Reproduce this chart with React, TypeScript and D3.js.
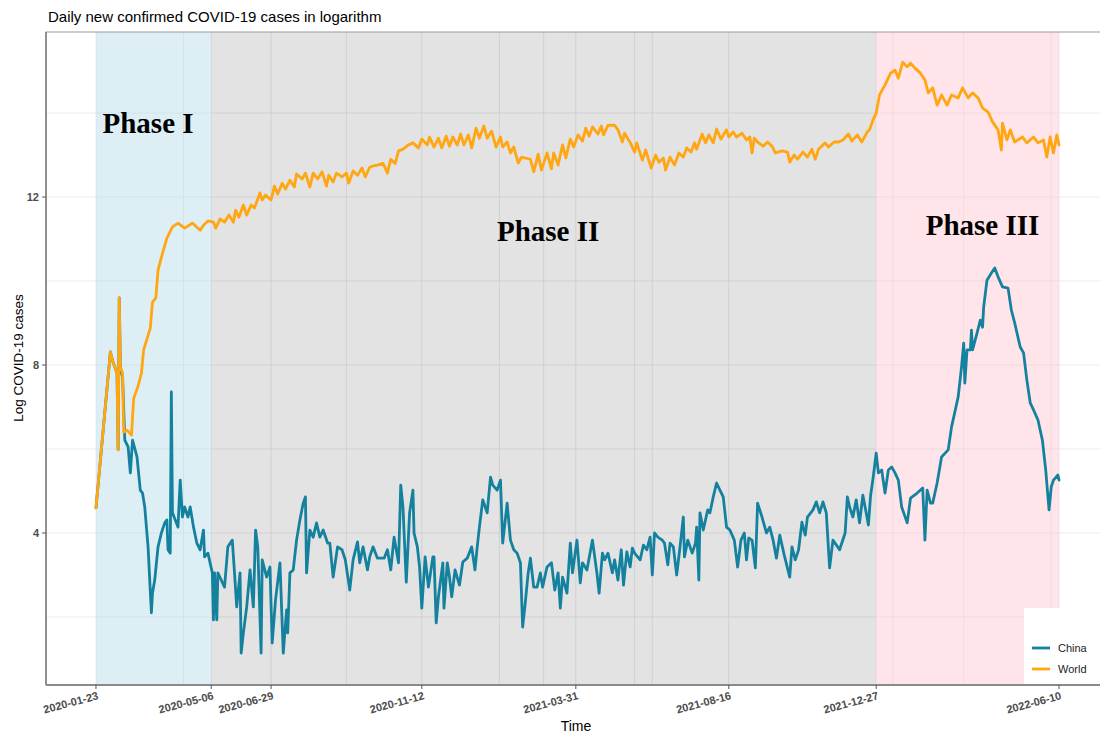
import * as d3 from "d3";

// [days since 2020-01-23, log of daily new cases]
const worldSeries: [number, number][] = [
  [0, 4.6], [13, 8.31], [15, 8.1], [19, 7.8], [20, 5.98], [21, 9.6], [22, 7.95], [24, 7.8], [25, 6.4], [28, 6.45],
  [32, 6.33], [34, 7.2], [38, 7.5], [41, 7.8], [43, 8.36], [49, 8.88], [51, 9.5], [54, 9.6], [56, 10.26], [60, 10.66],
  [64, 11.02], [69, 11.29], [74, 11.38], [80, 11.26], [87, 11.38], [94, 11.21], [97, 11.33], [101, 11.43], [106, 11.4], [108, 11.26],
  [112, 11.48], [116, 11.4], [120, 11.57], [124, 11.4], [126, 11.69], [129, 11.52], [133, 11.81], [136, 11.57], [140, 11.81], [143, 11.74],
  [148, 12.1], [150, 11.93], [153, 12.05], [158, 11.93], [161, 12.26], [164, 12.07], [168, 12.33], [171, 12.19], [175, 12.4], [179, 12.24],
  [181, 12.55], [186, 12.43], [189, 12.57], [193, 12.24], [196, 12.57], [200, 12.43], [204, 12.6], [208, 12.26], [210, 12.52], [214, 12.36],
  [217, 12.57], [222, 12.48], [226, 12.57], [228, 12.33], [232, 12.62], [236, 12.52], [240, 12.69], [243, 12.48], [247, 12.71], [250, 12.74],
  [254, 12.76], [259, 12.8], [263, 12.57], [266, 12.9], [270, 12.8], [273, 13.1], [277, 13.14], [282, 13.24], [286, 13.29], [291, 13.17],
  [294, 13.38], [299, 13.24], [301, 13.43], [305, 13.19], [309, 13.4], [312, 13.17], [316, 13.45], [319, 13.21], [322, 13.43], [326, 13.24],
  [329, 13.5], [332, 13.24], [336, 13.48], [339, 13.17], [343, 13.64], [346, 13.4], [350, 13.69], [353, 13.4], [357, 13.57], [361, 13.19],
  [365, 13.43], [367, 13.19], [371, 13.31], [374, 13.05], [377, 13.19], [381, 12.81], [384, 12.95], [392, 12.9], [395, 12.6], [399, 13.02],
  [402, 12.64], [407, 13.05], [411, 12.67], [413, 13.05], [417, 12.76], [421, 13.24], [424, 12.93], [428, 13.38], [431, 13.19], [435, 13.48],
  [439, 13.33], [442, 13.64], [445, 13.45], [448, 13.67], [453, 13.5], [456, 13.69], [458, 13.48], [462, 13.71], [468, 13.71], [471, 13.6],
  [475, 13.31], [477, 13.52], [482, 13.3], [486, 13.07], [488, 13.29], [493, 12.88], [496, 13.12], [501, 12.69], [505, 13.0], [508, 12.83],
  [512, 12.93], [514, 12.64], [518, 12.95], [522, 12.76], [526, 13.05], [530, 12.95], [533, 13.17], [537, 13.07], [540, 13.29], [542, 13.14],
  [547, 13.5], [550, 13.29], [553, 13.48], [557, 13.29], [560, 13.62], [564, 13.38], [569, 13.6], [571, 13.43], [575, 13.55], [578, 13.43],
  [583, 13.52], [587, 13.36], [590, 13.43], [592, 13.05], [594, 13.4], [597, 13.31], [602, 13.21], [606, 13.31], [610, 13.21], [613, 13.05],
  [619, 13.1], [624, 13.07], [626, 12.83], [630, 13.0], [633, 12.9], [638, 13.07], [642, 12.95], [646, 13.14], [649, 12.9], [652, 13.14],
  [658, 13.29], [661, 13.19], [666, 13.31], [670, 13.31], [674, 13.36], [679, 13.5], [682, 13.33], [687, 13.48], [691, 13.31], [696, 13.55],
  [698, 13.6], [701, 13.83], [704, 14.0], [707, 14.43], [712, 14.67], [717, 14.95], [721, 15.02], [724, 14.83], [728, 15.21], [732, 15.1],
  [735, 15.19], [739, 15.07], [744, 14.95], [748, 14.79], [751, 14.48], [755, 14.6], [759, 14.19], [763, 14.43], [768, 14.19], [772, 14.43],
  [778, 14.36], [782, 14.6], [787, 14.36], [791, 14.48], [796, 14.36], [800, 14.12], [805, 14.02], [809, 13.79], [814, 13.6], [817, 13.12],
  [818, 13.76], [822, 13.36], [825, 13.6], [829, 13.31], [836, 13.43], [840, 13.29], [846, 13.43], [850, 13.29], [855, 13.36], [858, 12.95],
  [861, 13.43], [864, 13.05], [867, 13.48], [869, 13.24],
];

const chinaDay = [0, 13, 15, 19, 20, 21, 22, 24, 26, 29, 31, 33, 37, 40, 42, 44, 47, 50, 51, 53, 56, 59, 62, 64, 65, 67, 68, 69, 74, 76, 78, 80, 83, 85, 88, 91, 94, 97, 98, 101, 105, 106, 107, 109, 110, 113, 116, 119, 123, 125, 127, 130, 131, 133, 136, 139, 142, 144, 146, 149, 150, 154, 157, 159, 162, 166, 169, 172, 173, 175, 178, 181, 184, 187, 189, 190, 193, 196, 199, 202, 205, 209, 211, 214, 218, 222, 225, 229, 232, 236, 238, 241, 245, 247, 250, 254, 260, 263, 266, 269, 273, 275, 277, 280, 283, 286, 287, 290, 292, 294, 297, 300, 304, 305, 307, 309, 313, 314, 317, 319, 321, 324, 328, 331, 335, 339, 342, 344, 346, 349, 353, 356, 358, 362, 365, 367, 371, 374, 377, 380, 383, 385, 387, 390, 392, 395, 398, 401, 403, 407, 411, 414, 417, 419, 421, 425, 428, 430, 434, 437, 439, 443, 448, 452, 454, 457, 459, 462, 466, 468, 471, 474, 476, 479, 482, 484, 486, 491, 494, 497, 500, 502, 504, 507, 511, 513, 516, 518, 521, 524, 527, 530, 531, 534, 538, 541, 542, 544, 545, 548, 552, 554, 557, 560, 563, 566, 569, 572, 576, 579, 582, 585, 587, 589, 592, 595, 597, 601, 605, 608, 611, 614, 617, 621, 626, 628, 631, 634, 637, 640, 642, 647, 650, 653, 656, 659, 662, 665, 671, 676, 678, 680, 683, 686, 689, 692, 695, 697, 699, 701, 704, 706, 709, 712, 715, 718, 721, 724, 727, 732, 735, 741, 746, 748, 750, 753, 755, 759, 763, 769, 772, 778, 781, 783, 784, 786, 789, 790, 791, 795, 798, 800, 801, 804, 808, 811, 814, 818, 823, 826, 829, 834, 837, 840, 843, 846, 850, 854, 857, 860, 862, 864, 868, 869];
const chinaLog = [4.6, 8.31, 8.1, 7.8, 5.98, 9.6, 7.95, 7.7, 6.21, 6.05, 5.43, 6.21, 5.81, 5.02, 4.95, 4.62, 3.67, 2.1, 2.57, 2.88, 3.67, 4.0, 4.24, 4.31, 3.6, 3.52, 7.36, 4.48, 4.14, 5.26, 4.38, 4.62, 4.38, 4.62, 4.14, 3.76, 3.6, 4.07, 3.43, 3.52, 3.05, 1.93, 3.05, 1.93, 3.05, 2.88, 2.71, 3.67, 3.83, 3.05, 2.24, 3.05, 1.14, 1.62, 2.24, 3.12, 2.24, 4.07, 3.67, 1.14, 3.36, 2.95, 3.19, 1.38, 2.4, 3.29, 1.14, 2.17, 1.62, 3.05, 3.12, 3.83, 4.31, 4.71, 4.86, 3.05, 4.07, 3.9, 4.24, 3.9, 4.07, 3.76, 3.76, 2.95, 3.67, 3.6, 3.36, 2.64, 3.36, 3.79, 3.29, 3.67, 3.12, 3.43, 3.67, 3.4, 3.4, 3.6, 3.12, 3.9, 3.29, 5.14, 4.62, 2.83, 4.48, 5.02, 4.0, 3.67, 3.19, 2.21, 3.43, 2.71, 3.43, 3.43, 1.86, 2.48, 3.29, 2.21, 3.29, 2.95, 2.48, 3.12, 2.76, 3.31, 3.4, 3.67, 3.12, 3.67, 4.14, 4.79, 4.48, 5.33, 5.14, 5.02, 5.26, 3.76, 4.71, 3.83, 3.6, 3.52, 3.29, 1.76, 2.24, 3.05, 3.4, 2.71, 2.71, 3.05, 2.71, 3.19, 3.29, 2.64, 3.05, 2.21, 2.95, 2.57, 3.76, 3.05, 3.83, 2.81, 3.29, 3.12, 3.83, 3.05, 2.57, 3.52, 3.36, 3.52, 3.05, 3.36, 2.88, 3.6, 2.76, 3.55, 3.19, 3.64, 3.52, 3.36, 3.71, 3.6, 3.9, 3.0, 4.0, 3.9, 3.83, 3.76, 3.24, 3.76, 3.67, 3.0, 3.67, 4.38, 3.43, 3.83, 3.52, 3.76, 4.14, 2.88, 4.48, 4.07, 4.55, 4.48, 4.86, 5.19, 5.02, 4.86, 4.14, 4.07, 3.83, 3.19, 3.83, 4.0, 3.36, 3.88, 3.83, 3.17, 4.71, 4.38, 4.0, 4.14, 3.83, 3.4, 3.95, 3.48, 2.95, 3.67, 3.36, 3.6, 4.26, 3.95, 4.38, 4.55, 4.74, 4.48, 4.74, 4.48, 3.17, 3.83, 3.6, 4.0, 4.86, 4.62, 4.38, 4.79, 4.24, 4.9, 4.48, 4.19, 4.9, 5.26, 5.9, 5.43, 5.5, 4.95, 5.5, 5.57, 5.43, 5.26, 4.62, 4.24, 4.83, 4.95, 5.07, 3.83, 5.02, 4.71, 4.71, 5.19, 5.81, 5.98, 6.52, 7.24, 7.95, 8.52, 7.57, 8.36, 8.36, 8.83, 8.36, 8.76, 9.07, 8.9, 9.38, 10.02, 10.19, 10.31, 10.1, 9.86, 9.83, 9.31, 9.0, 8.43, 8.29, 7.64, 7.1, 6.93, 6.69, 6.21, 5.5, 4.55, 5.1, 5.26, 5.38, 5.26];

const xBreaks = ["2020-01-23", "2020-05-06", "2020-06-29", "2020-11-12", "2021-03-31", "2021-08-16", "2021-12-27", "2022-06-10"];
const xMinor = ["2020-04-11", "2020-09-05", "2021-01-21", "2021-03-02", "2021-05-23", "2021-06-08", "2022-01-11", "2022-03-16", "2022-06-03"];
const yBreaks = [4, 8, 12];
const yMinor = [2, 6, 10, 14];

const phaseNames = ["Phase I", "Phase II", "Phase III"];
const phaseStart = ["2020-01-23", "2020-05-06", "2021-12-27"];
const phaseEnd = ["2020-05-06", "2021-12-27", "2022-06-10"];
const phaseLabelDate = ["2020-03-10", "2021-03-06", "2022-04-02"];
const phaseLabelLog = [13.52, 10.95, 11.1];
const phaseFill = ["rgba(173,216,230,0.42)", "rgba(0,0,0,0.11)", "rgba(255,192,203,0.42)"];

const seriesNames = ["China", "World"];
const seriesColors = ["#14829f", "#ffa612"];

const parse = d3.utcParse("%Y-%m-%d");
const start = parse("2020-01-23") as Date;
const dayToDate = (d: number) => new Date(start.getTime() + d * 864e5);

export default function App() {
  const width = 1100;
  const height = 735;
  const left = 46;
  const top = 32;
  const bottom = 685;
  const right = 1109;

  const x = d3.scaleTime()
    .domain([dayToDate(-45.1), dayToDate(869 + 45.1)])
    .range([left, right]);
  const y = d3.scaleLinear().domain([0.38, 15.93]).range([bottom, top]);

  const line = d3.line<[number, number]>()
    .x(d => x(dayToDate(d[0])))
    .y(d => y(d[1]));

  const china = chinaDay.map((d, i) => [d, chinaLog[i]] as [number, number]);
  const series = [china, worldSeries];

  const sans = "'Liberation Sans', Arial, sans-serif";
  const fmt = d3.utcFormat("%Y-%m-%d");

  return (
    <svg width={width} height={height} style={{ position: "absolute", left: 0, top: 0, background: "#fff" }}>
      <text x={48} y={22} fontFamily={sans} fontSize={15} fill="#000">
        Daily new confirmed COVID-19 cases in logarithm
      </text>

      <rect x={left} y={top} width={right - left} height={bottom - top} fill="#fff" />
      {yMinor.concat(yBreaks).map(v => (
        <line key={"gy" + v} x1={left} x2={right} y1={y(v)} y2={y(v)} stroke="#ebebeb" strokeWidth={1} />
      ))}
      {xMinor.concat(xBreaks).map(s => (
        <line key={"gx" + s} x1={x(parse(s) as Date)} x2={x(parse(s) as Date)} y1={top} y2={bottom} stroke="#ebebeb" strokeWidth={1} />
      ))}

      {phaseNames.map((p, i) => {
        const x0 = x(parse(phaseStart[i]) as Date);
        const x1 = x(parse(phaseEnd[i]) as Date);
        return <rect key={p} x={x0} y={top} width={x1 - x0} height={bottom - top} fill={phaseFill[i]} />;
      })}

      {series.map((s, i) => (
        <path key={seriesNames[i]} d={line(s) as string} fill="none" stroke={seriesColors[i]}
          strokeWidth={2.8} strokeLinejoin="round" strokeLinecap="round" />
      ))}

      {phaseNames.map((p, i) => (
        <text key={"t" + p} x={x(parse(phaseLabelDate[i]) as Date)} y={y(phaseLabelLog[i])}
          textAnchor="middle" fontFamily="'Liberation Serif', 'Times New Roman', serif"
          fontWeight="bold" fontSize={29} fill="#000">{p}</text>
      ))}

      <g>
        <rect x={1024} y={608} width={90} height={bottom - 608} fill="#fff" />
        {seriesNames.map((n, i) => (
          <g key={"lg" + n} transform={`translate(1032, ${648 + i * 21})`}>
            <line x1={0} x2={18} y1={0} y2={0} stroke={seriesColors[i]} strokeWidth={2.8} />
            <text x={26} y={4} fontFamily={sans} fontSize={11} fill="#222">{n}</text>
          </g>
        ))}
      </g>

      <rect x={left} y={top} width={right - left} height={bottom - top} fill="none" stroke="#999" strokeWidth={1} />
      <line x1={left} x2={left} y1={top} y2={bottom} stroke="#8a8a8a" strokeWidth={1.8} />
      <line x1={left} x2={right} y1={bottom} y2={bottom} stroke="#8a8a8a" strokeWidth={1.8} />

      {yBreaks.map(v => (
        <g key={"yt" + v}>
          <line x1={left - 4} x2={left} y1={y(v)} y2={y(v)} stroke="#555" strokeWidth={1} />
          <text x={left - 7} y={y(v) + 4} textAnchor="end" fontFamily={sans} fontSize={11}
            fontWeight="bold" fill="#4d4d4d">{v}</text>
        </g>
      ))}
      {xBreaks.map(s => {
        const px = x(parse(s) as Date);
        return (
          <g key={"xt" + s}>
            <line x1={px} x2={px} y1={bottom} y2={bottom + 4} stroke="#555" strokeWidth={1} />
            <text transform={`translate(${px + 3}, ${bottom + 14}) rotate(-15)`} textAnchor="end"
              fontFamily={sans} fontSize={11} fontWeight="bold" fill="#4d4d4d">{fmt(parse(s) as Date)}</text>
          </g>
        );
      })}

      <text x={576} y={731} textAnchor="middle" fontFamily={sans} fontSize={14} fill="#000">Time</text>
      <text transform="translate(23, 358) rotate(-90)" textAnchor="middle" fontFamily={sans}
        fontSize={13.5} fill="#000">Log COVID-19 cases</text>
    </svg>
  );
}
